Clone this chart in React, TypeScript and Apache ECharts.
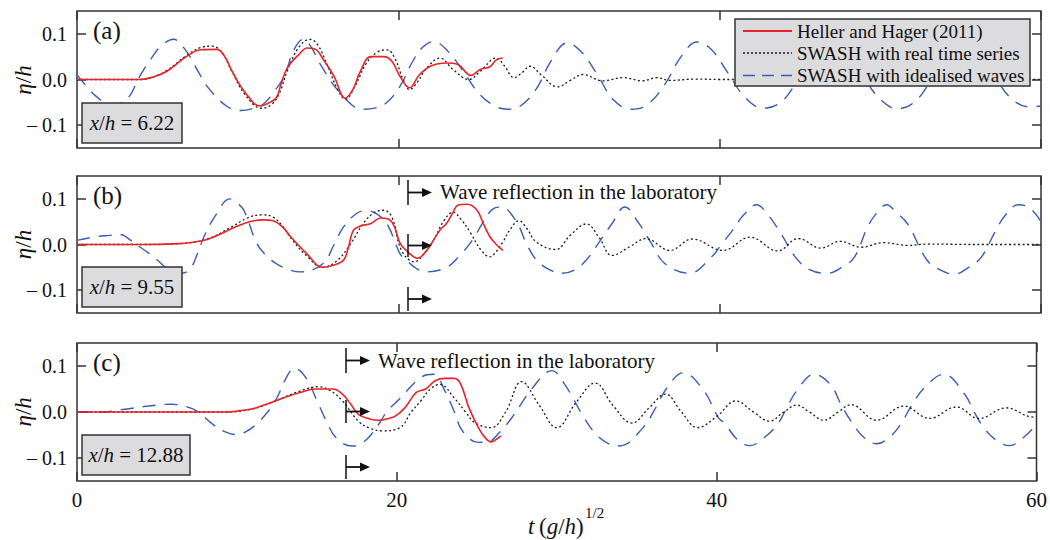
import React, { useEffect, useRef } from "react";
import * as echarts from "echarts";

// ---------- Data (t(g/h)^1/2 , eta/h) ----------
// Panel (a) x/h = 6.22
const tA_lab = [0, 2, 3.9, 4.8, 5.6, 6.8, 7.7, 8.7, 9.2, 9.7, 10.5, 11.4, 11.9, 12.4, 12.7, 13.1, 13.9, 14.3, 14.8, 15.4, 16.0, 16.7, 17.2, 17.6, 18.3, 19.1, 19.6, 20.1, 20.7, 21.3, 22.0, 23.0, 23.7, 24.5, 25.1, 25.7, 26.1, 26.5];
const etaA_lab = [0, 0, 0, 0.006, 0.018, 0.05, 0.065, 0.066, 0.05, 0.015, -0.03, -0.058, -0.052, -0.04, -0.01, 0.026, 0.058, 0.069, 0.067, 0.04, 0.007, -0.041, -0.02, 0.015, 0.05, 0.05, 0.04, 0.007, -0.018, 0.01, 0.029, 0.036, 0.033, 0.009, 0.022, 0.028, 0.043, 0.047];
const tA_real = [0, 4, 4.8, 5.6, 6.8, 7.7, 8.4, 9.0, 9.6, 10.5, 11.5, 12.1, 12.6, 13.1, 13.8, 14.5, 15.0, 15.6, 16.2, 16.7, 17.3, 18.0, 18.7, 19.3, 19.8, 20.3, 20.7, 21.2, 21.7, 22.6, 23.4, 24.4, 25.1, 26.1, 26.6, 27.2, 27.7, 28.2, 28.9, 29.9, 30.7, 31.5, 32.7, 34.0, 35.2, 36.1, 36.9, 38.5, 40, 44, 50, 60];
const etaA_real = [0, 0, 0.006, 0.02, 0.052, 0.07, 0.073, 0.06, 0.02, -0.035, -0.063, -0.055, -0.03, 0.02, 0.07, 0.088, 0.075, 0.03, -0.02, -0.043, -0.015, 0.035, 0.06, 0.065, 0.045, 0.0, -0.022, -0.005, 0.022, 0.047, 0.022, 0.0, 0.018, 0.047, 0.03, 0.004, 0.015, 0.029, 0.01, -0.016, -0.002, 0.011, -0.003, 0.004, -0.003, 0.004, -0.002, 0.001, 0, 0, 0, 0];
const tA_ideal = [0, 0.6, 1.2, 2.1, 3.1, 3.9, 4.6, 5.2, 6.0, 6.8, 7.5, 8.1, 9.3, 10.2, 11.0, 11.6, 12.3, 12.9, 13.5, 14.1, 14.6, 15.1, 16.4, 17.8, 18.6, 19.3, 20.1, 20.9, 21.5, 22.2, 23.0, 24.0, 25.0, 26.0, 26.8, 27.6, 28.6, 29.5, 30.5, 31.4, 32.4, 33.4, 34.5, 35.5, 36.6, 37.6, 38.6, 39.5, 40.5, 41.6, 42.7, 43.8, 44.8, 45.9, 46.9, 47.8, 48.8, 49.9, 51.1, 52.1, 53.1, 54.1, 55.1, 56.0, 57.0, 58.1, 59.3, 60];
const etaA_ideal = [0.01, -0.015, -0.037, -0.055, -0.043, 0.007, 0.045, 0.072, 0.088, 0.062, 0.02, -0.015, -0.058, -0.068, -0.063, -0.054, -0.025, 0.007, 0.065, 0.088, 0.07, 0.036, -0.03, -0.065, -0.062, -0.05, -0.015, 0.04, 0.07, 0.083, 0.065, 0.02, -0.03, -0.058, -0.065, -0.058, -0.02, 0.04, 0.08, 0.06, 0.01, -0.045, -0.065, -0.055, -0.01, 0.05, 0.082, 0.065, 0.015, -0.04, -0.063, -0.05, -0.005, 0.055, 0.082, 0.065, 0.015, -0.04, -0.064, -0.05, -0.005, 0.055, 0.082, 0.065, 0.015, -0.04, -0.06, -0.058];

// Panel (b) x/h = 9.55
const tB_lab = [0, 4, 6.4, 7.2, 8.1, 9.0, 9.7, 10.4, 11.0, 11.6, 12.2, 12.8, 13.3, 14.3, 15.3, 16.0, 16.6, 16.9, 17.2, 17.6, 18.3, 18.9, 19.5, 19.8, 20.1, 20.5, 21.2, 21.6, 22.0, 22.6, 23.0, 23.4, 23.7, 24.3, 24.9, 25.3, 25.7, 26.1, 26.5];
const etaB_lab = [0, 0, 0.002, 0.005, 0.011, 0.024, 0.036, 0.046, 0.052, 0.054, 0.052, 0.038, 0.017, -0.02, -0.05, -0.045, -0.034, -0.005, 0.031, 0.04, 0.046, 0.058, 0.053, 0.035, 0.003, -0.013, -0.03, -0.02, -0.001, 0.032, 0.046, 0.07, 0.086, 0.088, 0.075, 0.045, 0.017, 0.0, -0.013];
const tB_real = [0, 4, 6.4, 8.1, 9.7, 10.6, 11.5, 12.2, 12.8, 13.4, 14.3, 15.3, 16.2, 17.0, 17.8, 18.5, 19.1, 19.6, 20.2, 21.0, 21.6, 22.2, 22.8, 23.4, 23.9, 24.5, 25.1, 25.7, 26.1, 26.5, 27.0, 27.5, 28.0, 28.6, 29.8, 30.7, 31.7, 32.5, 33.3, 34.4, 35.4, 36.9, 38.3, 40.2, 41.9, 43.6, 44.9, 46.3, 47.5, 48.8, 50.2, 51.7, 53, 56, 60];
const etaB_real = [0, 0, 0.002, 0.012, 0.04, 0.058, 0.065, 0.06, 0.04, 0.01, -0.025, -0.05, -0.035, 0.0, 0.045, 0.07, 0.075, 0.06, -0.013, -0.038, -0.02, 0.01, 0.05, 0.071, 0.055, 0.025, -0.01, -0.027, -0.015, 0.005, 0.035, 0.052, 0.035, 0.005, -0.011, 0.02, 0.045, 0.015, -0.024, -0.005, 0.013, -0.013, 0.012, -0.013, 0.016, -0.014, 0.013, -0.008, 0.007, -0.006, 0.004, -0.002, 0.001, 0, 0];
const tB_ideal = [0, 1.0, 2.0, 2.7, 3.3, 3.9, 4.5, 5.0, 5.7, 6.4, 7.0, 7.5, 7.9, 8.7, 9.5, 10.0, 10.4, 11.2, 11.8, 12.4, 13.2, 13.9, 15.3, 16.0, 16.6, 17.4, 18.0, 18.6, 19.3, 20.1, 20.5, 21.1, 21.7, 23.0, 23.8, 24.6, 25.3, 25.9, 26.4, 27.3, 28.0, 28.6, 29.4, 30.2, 31.0, 31.7, 32.5, 33.3, 34.1, 34.9, 35.7, 36.6, 38.1, 39.5, 40.1, 40.8, 41.5, 42.3, 43.0, 43.8, 44.7, 45.6, 46.7, 47.6, 48.4, 49.2, 49.8, 50.4, 51.0, 51.7, 52.9, 53.7, 54.6, 55.5, 56.3, 57.1, 57.8, 58.6, 59.3, 60];
const etaB_ideal = [0.009, 0.016, 0.02, 0.022, 0.01, -0.005, -0.02, -0.034, -0.055, -0.063, -0.055, -0.02, 0.017, 0.068, 0.1, 0.09, 0.074, 0.002, -0.025, -0.042, -0.055, -0.06, -0.042, 0.0, 0.039, 0.068, 0.074, 0.068, 0.045, -0.02, -0.034, -0.052, -0.06, -0.05, -0.025, 0.009, 0.05, 0.078, 0.082, 0.053, 0.0, -0.034, -0.055, -0.063, -0.055, -0.034, 0.005, 0.046, 0.082, 0.05, 0.005, -0.042, -0.063, -0.027, 0.0, 0.031, 0.065, 0.087, 0.065, 0.025, -0.027, -0.055, -0.063, -0.05, -0.027, 0.038, 0.07, 0.087, 0.07, 0.045, -0.034, -0.055, -0.065, -0.05, -0.027, 0.025, 0.065, 0.087, 0.08, 0.05];

// Panel (c) x/h = 12.88
const tC_lab = [0, 5, 9.3, 10.2, 11.0, 11.7, 12.4, 13.1, 13.9, 14.9, 16.0, 16.6, 17.1, 17.6, 18.3, 18.9, 19.5, 19.9, 20.5, 21.2, 21.8, 22.4, 23.0, 23.6, 24.0, 24.5, 25.1, 25.5, 25.9, 26.2, 26.5];
const etaC_lab = [0, 0, 0, 0.003, 0.007, 0.015, 0.024, 0.033, 0.042, 0.05, 0.05, 0.039, 0.018, -0.005, -0.015, -0.018, -0.014, -0.009, 0.009, 0.042, 0.05, 0.068, 0.073, 0.073, 0.06, 0.01, -0.034, -0.055, -0.065, -0.06, -0.052];
const tC_real = [0, 9.3, 11.0, 12.4, 13.9, 15.1, 15.9, 16.6, 17.6, 18.3, 19.1, 20.2, 20.9, 21.5, 22.1, 22.7, 23.6, 24.3, 24.9, 25.9, 26.8, 27.8, 28.9, 30.0, 31.2, 32.4, 33.5, 34.7, 35.8, 36.8, 37.8, 38.8, 40.0, 41.2, 42.3, 43.3, 44.2, 45.0, 45.8, 46.7, 47.6, 48.4, 50.0, 51.7, 53.3, 55.0, 56.4, 58.1, 59.8, 60];
const etaC_real = [0, 0, 0.007, 0.024, 0.045, 0.055, 0.045, 0.024, -0.02, -0.035, -0.041, -0.034, 0.0, 0.024, 0.05, 0.06, 0.03, 0.0, -0.024, -0.034, 0.0, 0.066, 0.015, -0.034, 0.02, 0.063, 0.015, -0.024, 0.01, 0.039, 0.0, -0.034, -0.01, 0.024, 0.0, -0.02, 0.0, 0.015, 0.0, -0.018, 0.0, 0.016, -0.018, 0.013, -0.014, 0.011, -0.014, 0.009, -0.011, -0.01];
const tC_ideal = [0, 1.4, 3.0, 4.5, 5.9, 6.8, 7.5, 8.5, 9.2, 10.0, 10.6, 11.2, 11.8, 12.4, 13.2, 13.6, 14.3, 15.1, 15.6, 16.2, 17.2, 17.8, 18.4, 18.9, 19.4, 20.1, 21.5, 22.3, 23.0, 23.6, 24.1, 25.1, 25.7, 26.4, 27.2, 28.5, 29.7, 30.5, 31.7, 32.5, 33.3, 33.9, 35.4, 36.2, 36.9, 37.9, 39.2, 40.1, 40.5, 41.3, 42.1, 43.0, 43.8, 44.4, 45.0, 46.1, 47.1, 47.8, 48.4, 49.2, 50.0, 50.8, 51.5, 52.2, 53.0, 54.2, 55.5, 56.1, 56.7, 57.5, 58.3, 59.2, 60];
const etaC_ideal = [0, 0.0, 0.006, 0.013, 0.017, 0.012, 0.002, -0.027, -0.042, -0.049, -0.042, -0.027, -0.005, 0.024, 0.082, 0.095, 0.075, 0.017, -0.02, -0.056, -0.074, -0.068, -0.049, -0.025, 0.002, 0.026, 0.075, 0.082, 0.046, 0.0, -0.041, -0.066, -0.065, -0.045, -0.012, 0.053, 0.09, 0.06, -0.012, -0.05, -0.07, -0.074, -0.034, 0.01, 0.053, 0.085, 0.046, -0.012, -0.025, -0.06, -0.073, -0.055, -0.027, 0.01, 0.046, 0.082, 0.06, 0.015, -0.02, -0.055, -0.069, -0.055, -0.027, 0.015, 0.053, 0.082, 0.039, 0.0, -0.034, -0.062, -0.073, -0.055, -0.027];

const panelLabels = ["(a)", "(b)", "(c)"];
const positionLabels = ["6.22", "9.55", "12.88"];
const legendNames = ["Heller and Hager (2011)", "SWASH with real time series", "SWASH with idealised waves"];
const yTicks = [-0.1, 0, 0.1];

const FONT = "Liberation Serif";
const RED = "#e8232b";
const BLACK = "#1a1a1a";
const BLUE = "#3a5db3";
const AXIS = "#333";

const zip = (t: number[], v: number[]) => t.map((x, i) => [x, v[i]]);

export default function App() {
  const ref = useRef<HTMLDivElement>(null);
  useEffect(() => {
    if (!ref.current) return;
    const chart = echarts.init(ref.current, null, { renderer: "svg" });
    const tops = [11, 176, 343];
    const heights = [137, 137, 138];
    const grids = tops.map((top, i) => ({
      left: 77, top, width: 964, height: heights[i], show: true,
      borderColor: AXIS, borderWidth: 1.5, backgroundColor: "transparent",
    }));
    const xAxes: any[] = [];
    const yAxes: any[] = [];
    for (let i = 0; i < 3; i++) {
      ["bottom", "top"].forEach((pos) => {
        xAxes.push({
          gridIndex: i, type: "value", position: pos, min: 0, max: 60, interval: 20,
          axisLine: { show: false, onZero: false },
          axisTick: { show: true, inside: true, length: 9, lineStyle: { color: AXIS, width: 1.5 } },
          axisLabel: { show: i === 2 && pos === "bottom", margin: 8, color: "#111", fontFamily: FONT, fontSize: 21 },
          splitLine: { show: false },
        });
      });
      ["left", "right"].forEach((pos) => {
        yAxes.push({
          gridIndex: i, type: "value", position: pos, min: -0.15, max: 0.15,
          axisLine: { show: false, onZero: false },
          axisTick: { show: true, inside: true, length: 9, customValues: yTicks, lineStyle: { color: AXIS, width: 1.5 } },
          axisLabel: {
            show: pos === "left", customValues: yTicks, margin: 10, color: "#111", fontFamily: FONT, fontSize: 20,
            formatter: (v: number) => (v < -1e-9 ? "\u2013 " + Math.abs(v).toFixed(1) : Math.abs(v).toFixed(1)),
          },
          splitLine: { show: false },
        });
      });
    }
    const sets = [
      [zip(tA_ideal, etaA_ideal), zip(tA_real, etaA_real), zip(tA_lab, etaA_lab)],
      [zip(tB_ideal, etaB_ideal), zip(tB_real, etaB_real), zip(tB_lab, etaB_lab)],
      [zip(tC_ideal, etaC_ideal), zip(tC_real, etaC_real), zip(tC_lab, etaC_lab)],
    ];
    const series: any[] = [];
    sets.forEach((s, i) => {
      series.push({
        name: legendNames[2], type: "line", xAxisIndex: i * 2, yAxisIndex: i * 2, data: s[0],
        showSymbol: false, smooth: 0.4, z: 2,
        lineStyle: { color: BLUE, width: 1.4, type: [13, 9] },
      });
      series.push({
        name: legendNames[1], type: "line", xAxisIndex: i * 2, yAxisIndex: i * 2, data: s[1],
        showSymbol: false, smooth: 0.4, z: 3,
        lineStyle: { color: BLACK, width: 1.3, type: [2, 2.5] },
      });
      series.push({
        name: legendNames[0], type: "line", xAxisIndex: i * 2, yAxisIndex: i * 2, data: s[2],
        showSymbol: false, smooth: 0.4, z: 4,
        lineStyle: { color: RED, width: 1.6 },
      });
    });

    const txt = (x: number, y: number, text: string, size: number, extra: any = {}) => ({
      type: "text", x, y, z: 100,
      style: { text, fontFamily: FONT, fontSize: size, fill: "#111", ...extra },
    });
    const italRich = (size: number) => ({
      i: { fontStyle: "italic", fontFamily: FONT, fontSize: size, fill: "#111" },
      n: { fontFamily: FONT, fontSize: size, fill: "#111" },
    });

    const graphics: any[] = [];
    const boxes = [
      { x: 82, y: 103, w: 100 }, { x: 82, y: 267, w: 100 }, { x: 82, y: 435, w: 108 },
    ];
    const zeroY = [80, 244.5, 411.8];
    for (let i = 0; i < 3; i++) {
      graphics.push(txt(93, tops[i] + 19, panelLabels[i], 25, { verticalAlign: "middle" }));
      graphics.push({
        type: "text", x: 23, y: zeroY[i], rotation: Math.PI / 2, z: 100,
        style: { text: "{i|\u03b7}{n|/}{i|h}", rich: italRich(23), align: "center", verticalAlign: "middle", fontFamily: FONT, fontSize: 23 },
      });
      const b = boxes[i];
      graphics.push({
        type: "rect", z: 100, shape: { x: b.x, y: b.y, width: b.w, height: 40 },
        style: { fill: "#dcdcde", stroke: AXIS, lineWidth: 1.5 },
      });
      graphics.push({
        type: "text", x: b.x + b.w / 2, y: b.y + 20, z: 101,
        style: { text: "{i|x}{n|/}{i|h}{n| = " + positionLabels[i] + "}", rich: italRich(21), align: "center", verticalAlign: "middle", fontFamily: FONT, fontSize: 21 },
      });
    }
    // legend
    graphics.push({
      type: "rect", z: 100, shape: { x: 735, y: 19, width: 295, height: 67 },
      style: { fill: "#dcdcde", stroke: AXIS, lineWidth: 1.5 },
    });
    const legRows = [31, 53, 75.5];
    const legStyles = [
      { stroke: RED, lineWidth: 1.8 },
      { stroke: BLACK, lineWidth: 1.3, lineDash: [2, 2] },
      { stroke: BLUE, lineWidth: 1.4, lineDash: [12, 7] },
    ];
    legRows.forEach((y, k) => {
      graphics.push({ type: "line", z: 101, shape: { x1: 743, y1: y, x2: 792, y2: y }, style: legStyles[k] });
      graphics.push(txt(797, y, legendNames[k], 19, { verticalAlign: "middle" }));
    });
    // reflection annotations
    const arrowSets = [
      { x: 408, segs: [[180, 205], [234, 257], [287, 311]], text: { y: 192 } },
      { x: 346, segs: [[348, 373], [400, 423], [455, 479]], text: { y: 361 } },
    ];
    arrowSets.forEach((a) => {
      a.segs.forEach(([y1, y2]) => {
        const ym = (y1 + y2) / 2;
        graphics.push({ type: "line", z: 102, shape: { x1: a.x, y1, x2: a.x, y2 }, style: { stroke: "#111", lineWidth: 1.5 } });
        graphics.push({ type: "line", z: 102, shape: { x1: a.x, y1: ym, x2: a.x + 16, y2: ym }, style: { stroke: "#111", lineWidth: 1.8 } });
        graphics.push({ type: "polygon", z: 102, shape: { points: [[a.x + 14, ym - 4.5], [a.x + 24, ym], [a.x + 14, ym + 4.5]] }, style: { fill: "#111" } });
      });
      graphics.push(txt(a.x + 32, a.text.y, "Wave reflection in the laboratory", 21, { verticalAlign: "middle" }));
    });
    // x axis title
    graphics.push({
      type: "text", x: 528, y: 526, z: 100,
      style: { text: "{i|t}{n|\u2009(}{i|g}{n|/}{i|h}{n|)}", rich: italRich(23), verticalAlign: "middle", fontFamily: FONT, fontSize: 23 },
    });
    graphics.push(txt(585, 513, "1/2", 15, { verticalAlign: "middle" }));

    chart.setOption({
      animation: false,
      backgroundColor: "#fff",
      grid: grids,
      xAxis: xAxes,
      yAxis: yAxes,
      series,
      graphic: graphics,
    });
    return () => chart.dispose();
  }, []);
  return <div ref={ref} style={{ position: "absolute", left: 0, top: 0, width: 1050, height: 540 }} />;
}
